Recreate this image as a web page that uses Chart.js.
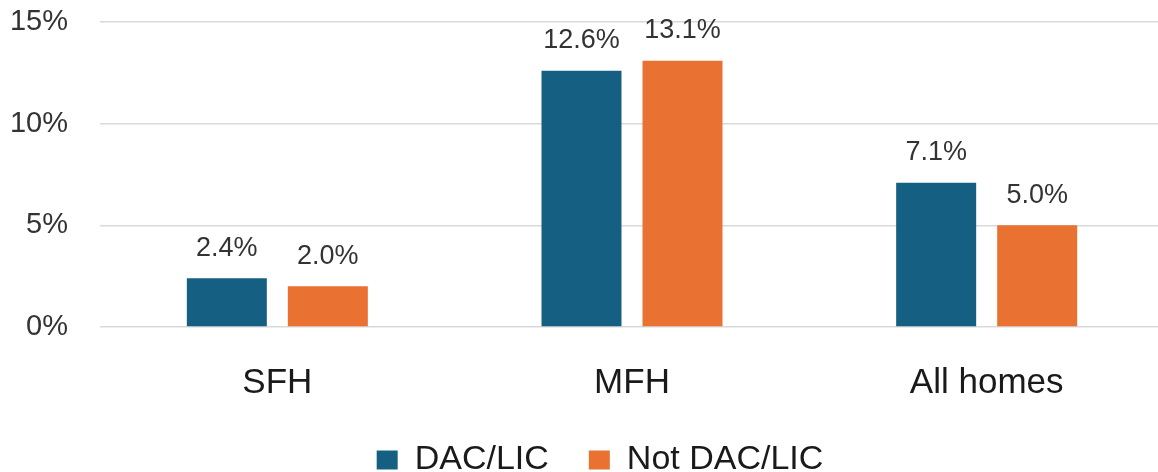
<!DOCTYPE html>
<html>
<head>
<meta charset="utf-8">
<script src="https://cdn.jsdelivr.net/npm/chart.js@4/dist/chart.umd.min.js"></script>
<style>
  html, body { margin: 0; padding: 0; background: #ffffff; overflow: hidden; }
  #wrap { width: 1158px; height: 472px; overflow: hidden; position: relative; }
  #box { width: 1164px; height: 472px; position: absolute; left: 0; top: 0; }
</style>
</head>
<body>
<div id="wrap"><div id="box"><canvas id="c"></canvas></div></div>
<script>
const categories = ["SFH", "MFH", "All homes"];
const seriesNames = ["DAC/LIC", "Not DAC/LIC"];
const dacValues = [2.4, 12.6, 7.1];
const notDacValues = [2.0, 13.1, 5.0];
const yTicks = [0, 5, 10, 15];

const FONT = "'Liberation Sans', Arial, sans-serif";

const dataLabels = {
  id: 'dataLabels',
  afterDatasetsDraw(chart) {
    const ctx = chart.ctx;
    ctx.save();
    ctx.font = "27px " + FONT;
    ctx.fillStyle = '#333333';
    ctx.textAlign = 'center';
    ctx.textBaseline = 'middle';
    chart.data.datasets.forEach((ds, i) => {
      const meta = chart.getDatasetMeta(i);
      meta.data.forEach((el, j) => {
        ctx.fillText(ds.data[j].toFixed(1) + '%', el.x, el.y - 30);
      });
    });
    ctx.restore();
  }
};

const legendShift = {
  id: 'legendShift',
  afterLayout(chart) {
    if (chart.legend) {
      chart.legend.left += 18;
      chart.legend.right += 18;
    }
  }
};

new Chart(document.getElementById('c'), {
  type: 'bar',
  data: {
    labels: categories,
    datasets: [
      { label: seriesNames[0], data: dacValues, backgroundColor: '#156082',
        categoryPercentage: 0.5696, barPercentage: 0.792 },
      { label: seriesNames[1], data: notDacValues, backgroundColor: '#E97132',
        categoryPercentage: 0.5696, barPercentage: 0.792 }
    ]
  },
  options: {
    responsive: true,
    maintainAspectRatio: false,
    animation: false,
    layout: { padding: { top: 22, left: 0, right: 0, bottom: -15 } },
    plugins: {
      tooltip: { enabled: false },
      legend: {
        position: 'bottom',
        labels: {
          boxWidth: 21,
          boxHeight: 19,
          padding: 40,
          color: '#1a1a1a',
          font: { family: FONT, size: 34 }
        }
      }
    },
    scales: {
      x: {
        grid: { display: false, drawTicks: false },
        border: { display: false },
        ticks: { color: '#1a1a1a', font: { family: FONT, size: 35 }, padding: 35 },
        afterFit(s) { s.height = 76; }
      },
      y: {
        min: 0, max: 15,
        afterBuildTicks(s) { s.ticks = yTicks.map(v => ({ value: v })); },
        grid: { color: '#d9d9d9', lineWidth: 1.5, drawTicks: false },
        border: { display: false },
        ticks: {
          color: '#333333',
          font: { family: FONT, size: 29 },
          padding: 32,
          callback: v => v + '%'
        },
        afterFit(s) { s.width = 100; s.paddingTop = 0; s.paddingBottom = 0; }
      }
    }
  },
  plugins: [dataLabels, legendShift]
});
</script>
</body>
</html>
